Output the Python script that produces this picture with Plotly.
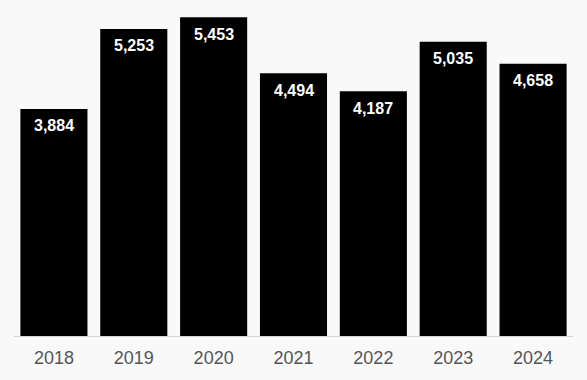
import plotly.graph_objects as go

years = ["2018", "2019", "2020", "2021", "2022", "2023", "2024"]
values = [3884, 5253, 5453, 4494, 4187, 5035, 4658]
labels = ["3,884", "5,253", "5,453", "4,494", "4,187", "5,035", "4,658"]

fig = go.Figure(go.Bar(x=years, y=values, marker=dict(color="#000000", line=dict(width=0)),
                       hoverinfo="skip"))

for i, (y, t) in enumerate(zip(values, labels)):
    fig.add_annotation(x=i, y=y, text=t, showarrow=False, yanchor="middle", yshift=-17,
                       font=dict(family="Liberation Sans, Arial", size=16, color="#ffffff",
                                 weight="bold"))

fig.update_layout(
    width=587, height=380,
    margin=dict(l=14, r=14, t=10, b=44),
    paper_bgcolor="#f9f9f9", plot_bgcolor="#f9f9f9",
    bargap=0.16,
    showlegend=False,
    xaxis=dict(type="category", range=[-0.5, len(years) - 0.5], showgrid=False, showline=True,
               linecolor="#d4d4d4", linewidth=1,
               tickfont=dict(family="Liberation Sans, Arial", size=18, color="#555555"),
               ticks="", ticklabelstandoff=5),
    yaxis=dict(range=[0, 5577], visible=False, showgrid=False, zeroline=False),
)

fig.write_html("out.html", config={"displayModeBar": False},
               post_script="document.body.style.margin='0';document.body.style.background='#f9f9f9';")
